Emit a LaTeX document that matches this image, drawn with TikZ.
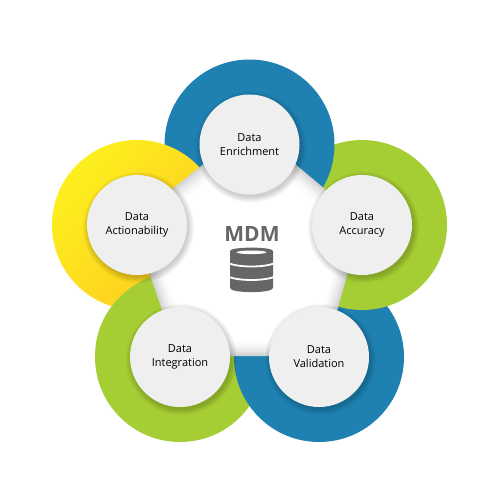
\documentclass[tikz,border=0pt]{standalone}
\usepackage{fontspec}
\setmainfont{Open Sans}
\definecolor{ringblue}{HTML}{1F81B2}
\definecolor{ringgreen}{HTML}{A5CD34}
\definecolor{yellowa}{HTML}{FDF01E}
\definecolor{yellowb}{HTML}{FDC820}
\definecolor{bubblefill}{HTML}{EFEFEF}
\definecolor{icongrey}{HTML}{666666}
\tikzset{
  ringdisc/.style={fill=#1,draw=none},
  bubble/.style={circle,fill=bubblefill,draw=none,minimum size=100pt,inner sep=0pt,align=center,
    font=\fontsize{11}{14}\selectfont,text=black},
  softshadow/.style={fill=black,draw=none,opacity=0.024}
}
\newcommand{\pentapath}{(251,127) -- (363,221) -- (324,356) -- (178,356) -- (131,221) -- cycle}
\begin{document}
\begin{tikzpicture}[x=1pt,y=-1pt]
\useasboundingbox (0,0) rectangle (500,500);
\fill[white] (0,0) rectangle (500,500);
% rings, each overlapping the next one round the cycle
\fill[ringdisc=ringgreen] (180,357) circle[radius=85];
\fill[ringdisc=ringblue] (319,357) circle[radius=85];
\fill[ringdisc=ringgreen] (362,225) circle[radius=85];
\fill[ringdisc=ringblue] (249.5,144.5) circle[radius=85];
\shade[left color=yellowa,right color=yellowb,shading angle=50] (137,225) circle[radius=85];
\begin{scope}
  \clip (90,260) rectangle (200,345);
  \fill[ringdisc=ringgreen] (180,357) circle[radius=85];
\end{scope}
% central pentagon with soft inner shade
\foreach \i in {0,...,24}{
  \pgfmathsetmacro{\sc}{1-0.0075*\i}
  \pgfmathsetmacro{\wh}{min(100,82+18*(1-(1-\i/24)^2))}
  \begin{scope}[shift={(249,262)},scale=\sc,shift={(-249,-262)}]
    \fill[white!\wh!black] \pentapath;
  \end{scope}
}
% shadows of the bubbles
\foreach \cx/\cy in {249.5/144.5,362/225,319/357,180/357,137/225}{
  \foreach \r in {50,50.8,...,56}{
    \fill[softshadow] (\cx+1.5,\cy+2.5) circle[radius=\r];
  }
}
% bubbles
\node[bubble] (enrich) at (249.5,144.5) {Data\\Enrichment};
\node[bubble] (accuracy) at (362,225) {Data\\Accuracy};
\node[bubble] (validation) at (319,357) {\raisebox{-1.5pt}{Data}\\[0pt]\raisebox{-1.5pt}{Validation}};
\node[bubble] (integration) at (180,357) {\raisebox{-1pt}{Data}\\[0pt]\raisebox{-1pt}{Integration}};
\node[bubble] (action) at (137,225) {Data\\Actionability};
% centre
\node[font=\fontsize{21}{24}\selectfont\bfseries,text=icongrey,inner sep=0pt] (mdm) at (252,234) {MDM};
\fill[icongrey] (230,251) .. controls (230,246.5) and (273,246.5) .. (273,251)
  -- (273,288) .. controls (273,293.5) and (230,293.5) .. (230,288) -- cycle;
\fill[white] (251.5,252.3) ellipse[x radius=15,y radius=1.8];
\draw[white,line width=1.8pt] (229,263.5) .. controls (240,267.5) and (263,267.5) .. (274,263.5);
\draw[white,line width=1.8pt] (229,277) .. controls (240,281) and (263,281) .. (274,277);
\end{tikzpicture}
\end{document}
